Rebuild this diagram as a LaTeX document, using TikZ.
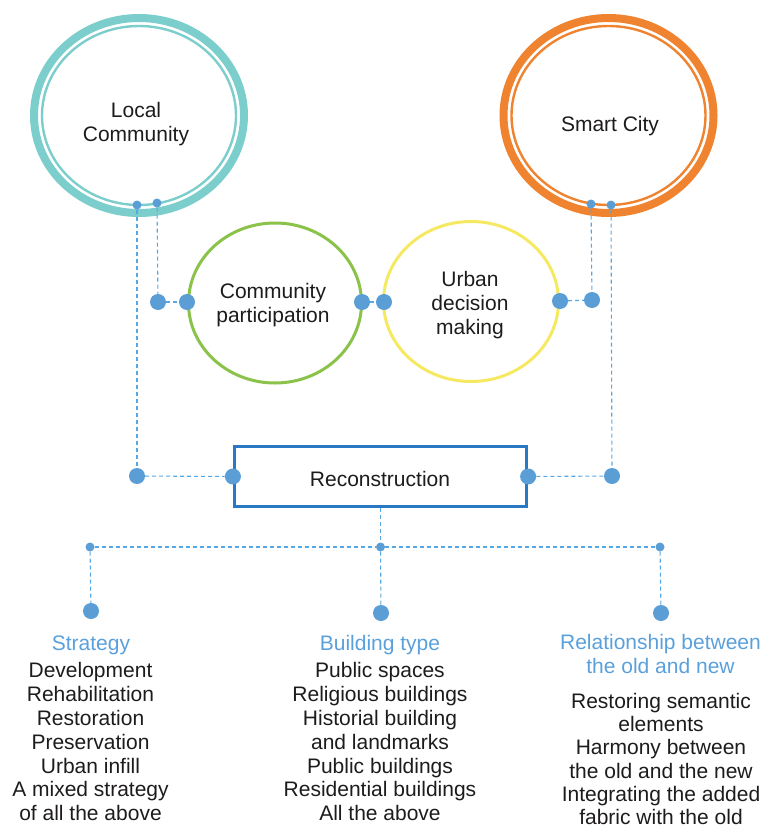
\documentclass[tikz,border=0pt]{standalone}
\usepackage{fontspec}
\setmainfont{Liberation Sans}
\usetikzlibrary{shapes.geometric}

\definecolor{ringteal}{RGB}{124,206,205}
\definecolor{ringorange}{RGB}{239,131,48}
\definecolor{ringgreen}{RGB}{138,194,74}
\definecolor{ringyellow}{RGB}{246,233,98}
\definecolor{dotblue}{RGB}{91,157,213}
\definecolor{lineblue}{RGB}{84,168,230}
\definecolor{boxblue}{RGB}{40,120,195}
\definecolor{headblue}{RGB}{90,160,220}
\definecolor{inkdark}{RGB}{30,27,28}

\begin{document}
\begin{tikzpicture}[x=1pt,y=-1pt,
  txt/.style={align=center, inner sep=0pt, anchor=north, text=inkdark,
    font=\fontsize{21}{23.9}\selectfont, execute at begin node=\strut},
  head/.style={txt, text=headblue},
  bigring/.style={ellipse, draw, line width=8pt, inner sep=0pt,
    minimum width=210pt, minimum height=195pt},
  smallring/.style={ellipse, draw, line width=3pt, inner sep=0pt,
    minimum height=160pt},
  bigdot/.style={circle, fill=dotblue, inner sep=0pt, minimum size=16pt},
  smalldot/.style={circle, fill=dotblue, inner sep=0pt, minimum size=9pt},
  link/.style={draw=lineblue, line width=1.1pt, dash pattern=on 4pt off 3pt},
  recbox/.style={rectangle, draw=boxblue, line width=3.2pt, fill=white,
    minimum width=292pt, minimum height=60pt}]
\useasboundingbox (0,0) rectangle (770,830);

% outer rings
\node[bigring, draw=ringteal] (lc) at (139,115.5) {};
\draw[ringteal, line width=2.4pt] (lc.center) ellipse [x radius=97pt, y radius=89.5pt];
\node[bigring, draw=ringorange] (sc) at (608.5,115.5) {};
\draw[ringorange, line width=2.4pt] (sc.center) ellipse [x radius=97pt, y radius=89.5pt];

% middle circles
\node[smallring, draw=ringgreen, minimum width=173pt] (cp) at (275,303) {};
\node[smallring, draw=ringyellow, minimum width=175pt] (ud) at (471,301.5) {};

% central box
\node[recbox] (rec) at (380.5,476.5) {};

% labels
\node[txt] (lcText) at (136,102.5) {Local\\Community};
\node[txt] (scText) at (610,114.5) {Smart City};
\node[txt] (cpText) at (273,283.5) {Community\\participation};
\node[txt] (udText) at (470,271.5) {Urban\\decision\\making};
\node[txt] (recText) at (380,470) {Reconstruction};

% connection dots
\node[smalldot] (lcA) at (137,205) {};
\node[smalldot] (lcB) at (157,203) {};
\node[smalldot] (scA) at (591,204) {};
\node[smalldot] (scB) at (611,205) {};
\node[bigdot] (lcP) at (158,302) {};
\node[bigdot] (cpL) at (187,302) {};
\node[bigdot] (cpR) at (362,302) {};
\node[bigdot] (udL) at (384,302) {};
\node[bigdot] (udR) at (560,301) {};
\node[bigdot] (scP) at (592,300) {};
\node[bigdot] (lcD) at (137,476) {};
\node[bigdot] (recL) at (rec.west) {};
\node[bigdot] (recR) at (rec.east) {};
\node[bigdot] (scD) at (612,476) {};
\node[smalldot] (t1) at (90,547) {};
\node[smalldot] (t2) at (380.5,547) {};
\node[smalldot] (t3) at (660,547) {};
\node[bigdot] (b1) at (91,611) {};
\node[bigdot] (b2) at (381,613) {};
\node[bigdot] (b3) at (661,613) {};

% dashed connectors
\path[link] (lcB) -- (lcP);
\path[link] (lcP) -- (cpL);
\path[link] (cpR) -- (udL);
\path[link] (udR) -- (scP);
\path[link] (scA) -- (scP);
\path[link] (lcA) -- (lcD);
\path[link] (lcD) -- (recL);
\path[link] (recR) -- (scD);
\path[link] (scB) -- (scD);
\path[link] (rec.south) -- (t2);
\path[link] (t1) -- (t2);
\path[link] (t2) -- (t3);
\path[link] (t1) -- (b1);
\path[link] (t2) -- (b2);
\path[link] (t3) -- (b3);

% branch headings and lists
\node[head] (hStrategy) at (91,634) {Strategy};
\node[txt] (lStrategy) at (90.5,662) {Development\\Rehabilitation\\Restoration\\Preservation\\Urban infill\\A mixed strategy\\of all the above};
\node[head] (hType) at (380,634) {Building type};
\node[txt] (lType) at (380,662) {Public spaces\\Religious buildings\\Historial building\\and landmarks\\Public buildings\\Residential buildings\\All the above};
\node[head] (hRel) at (660.5,634) {Relationship between\\the old and new};
\node[txt, font=\fontsize{21}{23.3}\selectfont] (lRel) at (661,692.7)
  {Restoring semantic\\elements\\Harmony between\\the old and the new\\Integrating the added\\fabric with the old};
\end{tikzpicture}
\end{document}
